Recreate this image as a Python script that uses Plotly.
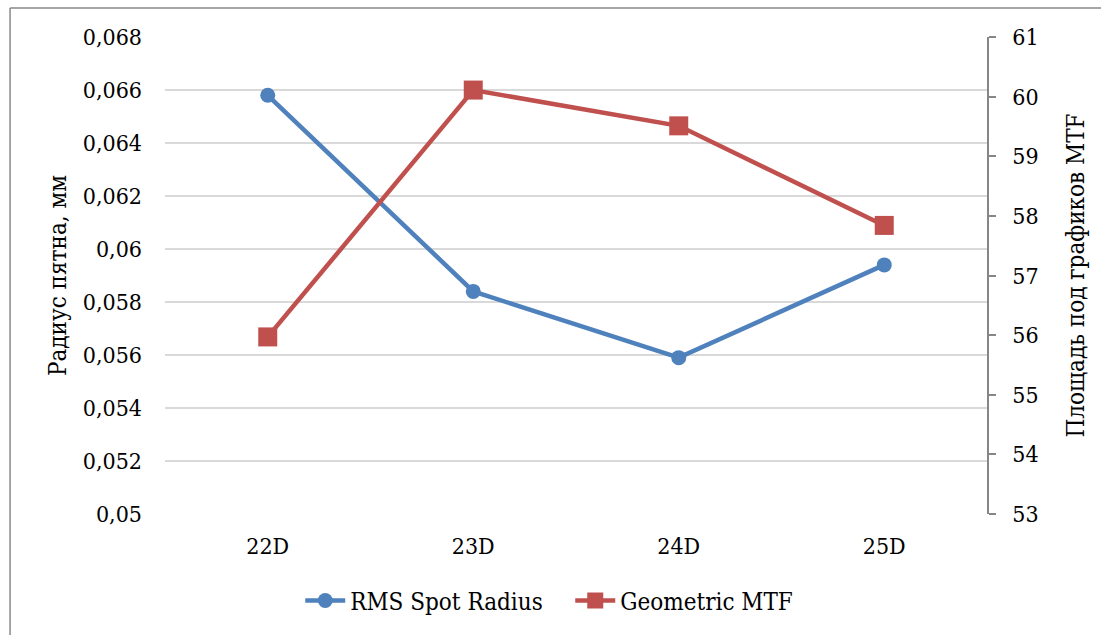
import plotly.graph_objects as go

categories = ["22D", "23D", "24D", "25D"]
rms_spot_radius = [0.0658, 0.0584, 0.0559, 0.0594]
geometric_mtf = [55.97, 60.11, 59.51, 57.84]

left_tick_vals = [0.05, 0.052, 0.054, 0.056, 0.058, 0.06, 0.062, 0.064, 0.066, 0.068]
left_tick_text = ["0,05", "0,052", "0,054", "0,056", "0,058", "0,06", "0,062", "0,064", "0,066", "0,068"]
right_tick_vals = [53, 54, 55, 56, 57, 58, 59, 60, 61]

FONT = "DejaVu Serif Condensed, DejaVu Serif"
TICK = 23
TXT = 24
BLUE = "#4F81BD"
RED = "#C0504D"

fig = go.Figure()
fig.add_trace(go.Scatter(
    x=categories, y=rms_spot_radius, name="RMS Spot Radius",
    mode="lines+markers",
    line=dict(color=BLUE, width=4.5),
    marker=dict(symbol="circle", size=15, color=BLUE),
    yaxis="y",
))
fig.add_trace(go.Scatter(
    x=categories, y=geometric_mtf, name="Geometric MTF",
    mode="lines+markers",
    line=dict(color=RED, width=4.5),
    marker=dict(symbol="square", size=19, color=RED),
    yaxis="y2",
))

fig.update_layout(
    width=1101, height=635,
    margin=dict(l=165, r=114, t=37, b=121),
    paper_bgcolor="white", plot_bgcolor="white",
    font=dict(family=FONT, size=TXT, color="black"),
    showlegend=True,
    legend=dict(orientation="h", x=0.493, xanchor="center", y=-0.135, yanchor="top",
                font=dict(family=FONT, size=TXT), itemwidth=40,
                entrywidth=215, entrywidthmode="pixels", traceorder="normal"),
    xaxis=dict(
        type="category", range=[-0.5, 3.5], showgrid=False, showline=False,
        zeroline=False, ticks="", ticklabelstandoff=16,
        tickfont=dict(family=FONT, size=TICK),
    ),
    yaxis=dict(
        range=[0.05, 0.068], tickvals=left_tick_vals, ticktext=left_tick_text,
        showgrid=True, gridcolor="#D9D9D9", gridwidth=1.5,
        showline=False, zeroline=False, ticks="", ticklabelstandoff=22,
        tickfont=dict(family=FONT, size=TICK),
        title=dict(text="Радиус пятна, мм", font=dict(family=FONT, size=TXT), standoff=9),
    ),
    yaxis2=dict(
        range=[53, 61], tickvals=right_tick_vals, overlaying="y", side="right",
        showgrid=False, showline=True, linecolor="#868686", linewidth=1.5,
        ticks="outside", ticklen=7, tickcolor="#868686", tickwidth=1.5,
        zeroline=False, ticklabelstandoff=12,
        tickfont=dict(family=FONT, size=TICK),
        title=dict(text="Площадь под графиков MTF", font=dict(family=FONT, size=TXT), standoff=30),
    ),
    shapes=[
        dict(type="line", xref="paper", yref="paper", x0=-0.1885, x1=1.2, y0=1.0608, y1=1.0608,
             line=dict(color="#898989", width=1.5)),
        dict(type="line", xref="paper", yref="paper", x0=-0.1885, x1=-0.1885, y0=-0.35, y1=1.0608,
             line=dict(color="#898989", width=1.5)),
    ],
)

fig.write_html("out.html", config={"displayModeBar": False},
               post_script="document.body.style.margin='0';document.body.style.overflow='hidden';")
